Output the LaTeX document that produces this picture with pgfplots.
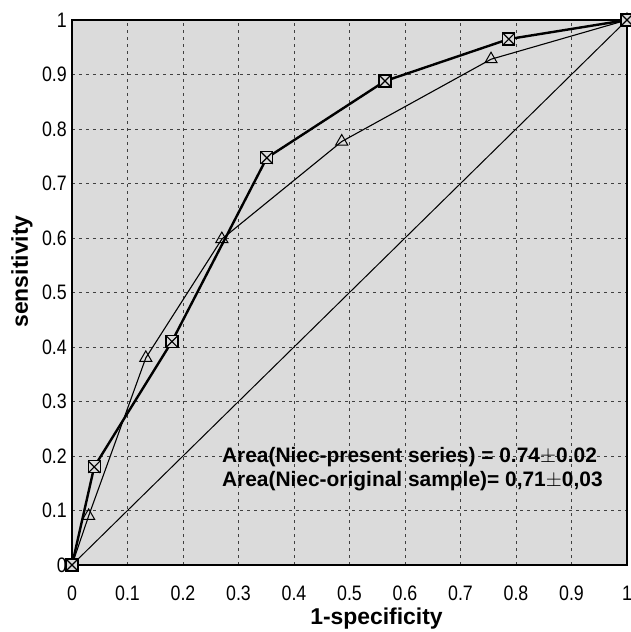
\documentclass[border=0pt]{standalone}
\usepackage{pgfplots}
\pgfplotsset{compat=1.18}
\usepackage{fontspec}
\setmainfont{Liberation Sans}
\newfontfamily\narrowfont[FakeStretch=0.85]{Liberation Sans}
\pgfdeclareplotmark{boxx}{%
  \pgfpathrectangle{\pgfpoint{-\pgfplotmarksize}{-\pgfplotmarksize}}{\pgfpoint{2\pgfplotmarksize}{2\pgfplotmarksize}}%
  \pgfusepathqfillstroke
  \pgfpathmoveto{\pgfpoint{-\pgfplotmarksize}{-\pgfplotmarksize}}%
  \pgfpathlineto{\pgfpoint{\pgfplotmarksize}{\pgfplotmarksize}}%
  \pgfpathmoveto{\pgfpoint{-\pgfplotmarksize}{\pgfplotmarksize}}%
  \pgfpathlineto{\pgfpoint{\pgfplotmarksize}{-\pgfplotmarksize}}%
  \pgfusepathqstroke}
\definecolor{bgc}{gray}{0.86}
\begin{document}
\begin{tikzpicture}
\begin{axis}[
  at={(0,0)}, anchor=south west,
  scale only axis, width=555bp, height=545bp,
  xmin=0, xmax=1, ymin=0, ymax=1,
  xtick={0,0.1,0.2,0.3,0.4,0.5,0.6,0.7,0.8,0.9,1},
  ytick={0,0.1,0.2,0.3,0.4,0.5,0.6,0.7,0.8,0.9,1},
  xticklabels={}, yticklabels={},
  major tick length=0pt,
  axis line style={line width=1.6bp},
  axis background/.style={fill=bgc},
  xmajorgrids, ymajorgrids,
  major grid style={black!75, line width=0.7bp, dash pattern=on 3bp off 4bp},
  xlabel={\bfseries 1-specificity},
  ylabel={\bfseries sensitivity},
  xlabel style={font=\fontsize{23}{23}\selectfont, xshift=27bp, yshift=-33bp},
  ylabel style={font=\fontsize{23}{23}\selectfont, xshift=21bp, yshift=29bp},
  clip=false,
]
\addplot[black, line width=1bp, forget plot] coordinates {(0,0) (1,1)};
\addplot[black, line width=1.1bp, mark=triangle, mark size=7bp, mark options={fill=bgc, line width=1bp}] coordinates {
(0,0) (0.03,0.09) (0.133,0.38) (0.27,0.598) (0.486,0.777) (0.755,0.928) (1,1)};
\addplot[black, line width=2.4bp, mark=boxx, mark size=6bp, mark options={fill=bgc, line width=1.2bp}] coordinates {
(0,0) (0.04,0.18) (0.18,0.41) (0.351,0.747) (0.564,0.888) (0.787,0.965) (1,1)};
\pgfplotsinvokeforeach{0,0.1,0.2,0.3,0.4,0.5,0.6,0.7,0.8,0.9,1}{
  \node[anchor=base, inner sep=0pt, font=\fontsize{21}{21}\selectfont\narrowfont] at (axis cs:#1,0) [yshift=-35bp] {#1};
  \node[anchor=east, inner sep=0pt, font=\fontsize{21}{21}\selectfont\narrowfont] at (axis cs:0,#1) [xshift=-5bp] {#1};
}
\node[anchor=west, inner sep=0pt, font=\fontsize{21}{21}\selectfont\bfseries] at (axis cs:0.27,0.198) {Area(Niec-present series) = 0.74$\pm$0.02};
\node[anchor=west, inner sep=0pt, font=\fontsize{21}{21}\selectfont\bfseries] at (axis cs:0.27,0.154) {Area(Niec-original sample)= 0,71$\pm$0,03};
\end{axis}
\pgfresetboundingbox
\useasboundingbox (-72bp,-67bp) rectangle (559bp,565bp);
\end{tikzpicture}
\end{document}
